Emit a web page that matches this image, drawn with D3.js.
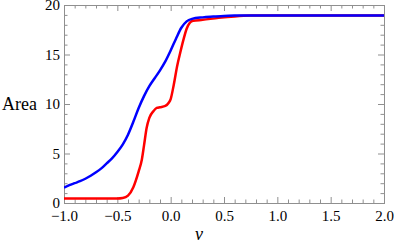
<!DOCTYPE html>
<html>
<head>
<meta charset="utf-8">
<script src="https://cdn.jsdelivr.net/npm/d3@7"></script>
<style>
  html, body { margin: 0; padding: 0; background: #fff; }
  svg { display: block; }
</style>
</head>
<body>
<svg id="chart" width="394" height="245"></svg>
<script>
// ---- data ----
const blueV = [-1.0, -0.95, -0.9, -0.85, -0.8, -0.75, -0.7, -0.65, -0.6, -0.55, -0.5, -0.45, -0.4, -0.35, -0.3, -0.25, -0.2, -0.15, -0.1, -0.05, 0.0, 0.05, 0.1, 0.15, 0.2, 0.3, 0.4, 0.5, 0.6, 0.8, 1.0, 1.5, 2.0];
const blueArea = [1.55, 1.8, 2.0, 2.2, 2.45, 2.75, 3.1, 3.5, 4.0, 4.5, 5.15, 5.9, 6.9, 8.2, 9.6, 10.8, 11.8, 12.6, 13.4, 14.3, 15.4, 16.6, 17.7, 18.35, 18.6, 18.75, 18.83, 18.9, 18.93, 18.95, 18.95, 18.95, 18.95];
const redV = [-1.0, -0.75, -0.5, -0.45, -0.4, -0.35, -0.3, -0.27, -0.25, -0.225, -0.2, -0.16, -0.13, -0.1, -0.05, -0.02, 0.0, 0.03, 0.06, 0.09, 0.12, 0.15, 0.18, 0.21, 0.3, 0.45, 0.6, 0.75, 1.0, 1.5, 2.0];
const redArea = [0.45, 0.45, 0.45, 0.5, 0.75, 1.6, 3.2, 4.4, 5.8, 7.6, 8.6, 9.3, 9.6, 9.67, 9.8, 10.1, 10.5, 12.0, 13.8, 15.2, 16.5, 17.6, 18.2, 18.4, 18.5, 18.7, 18.85, 18.93, 18.95, 18.95, 18.95];
const xMajorTicks = [-1.0, -0.5, 0.0, 0.5, 1.0, 1.5, 2.0];
const yMajorTicks = [0, 5, 10, 15, 20];
const xLabel = "v";
const yLabel = "Area";

// ---- layout ----
const pL = 64, pR = 384, pT = 5, pB = 203;
const serif = "'Liberation Serif', 'Times New Roman', serif";
const svg = d3.select("#chart");
const x = d3.scaleLinear().domain([-1, 2]).range([pL, pR]);
const y = d3.scaleLinear().domain([0, 20]).range([pB, pT]);
const frameColor = "#8f8f8f";

const xMinor = d3.range(-10, 21).map(i => i / 10).filter(v => Math.abs(v * 2 - Math.round(v * 2)) > 1e-6);
const yMinor = d3.range(0, 21).filter(v => v % 5 !== 0);

function styleAxis(g) {
  g.select(".domain").remove();
  g.selectAll(".tick line").attr("stroke", frameColor).attr("stroke-width", 1);
  g.selectAll(".tick text").style("font-family", serif).style("font-size", "15px").attr("fill", "#000");
}

// minor ticks (all sides)
svg.append("g").attr("transform", `translate(0,${pB})`)
  .call(d3.axisBottom(x).tickValues(xMinor).tickSize(-3.5).tickFormat("")).call(styleAxis);
svg.append("g").attr("transform", `translate(0,${pT})`)
  .call(d3.axisTop(x).tickValues(xMinor).tickSize(-3.5).tickFormat("")).call(styleAxis);
svg.append("g").attr("transform", `translate(${pL},0)`)
  .call(d3.axisLeft(y).tickValues(yMinor).tickSize(-3.5).tickFormat("")).call(styleAxis);
svg.append("g").attr("transform", `translate(${pR},0)`)
  .call(d3.axisRight(y).tickValues(yMinor).tickSize(-3.5).tickFormat("")).call(styleAxis);

// major ticks
svg.append("g").attr("transform", `translate(0,${pB})`)
  .call(d3.axisBottom(x).tickValues(xMajorTicks).tickSize(-6).tickPadding(7).tickFormat(d3.format(".1f"))).call(styleAxis);
svg.append("g").attr("transform", `translate(0,${pT})`)
  .call(d3.axisTop(x).tickValues(xMajorTicks).tickSize(-6).tickFormat("")).call(styleAxis);
svg.append("g").attr("transform", `translate(${pL},0)`)
  .call(d3.axisLeft(y).tickValues(yMajorTicks).tickSize(-6).tickPadding(4).tickFormat(d3.format("d"))).call(styleAxis);
svg.append("g").attr("transform", `translate(${pR},0)`)
  .call(d3.axisRight(y).tickValues(yMajorTicks).tickSize(-6).tickFormat("")).call(styleAxis);

// frame
svg.append("rect")
  .attr("x", pL + 0.5).attr("y", pT + 0.5)
  .attr("width", pR - pL).attr("height", pB - pT)
  .attr("fill", "none").attr("stroke", frameColor).attr("stroke-width", 1);

// curves
svg.append("clipPath").attr("id", "clip").append("rect")
  .attr("x", pL).attr("y", pT).attr("width", pR - pL).attr("height", pB - pT);

const line = d3.line().x(d => x(d[0])).y(d => y(d[1])).curve(d3.curveMonotoneX);
svg.append("path")
  .datum(redV.map((v, i) => [v, redArea[i]]))
  .attr("d", line).attr("fill", "none").attr("stroke", "#ff0000").attr("stroke-width", 2.5)
  .attr("clip-path", "url(#clip)");
svg.append("path")
  .datum(blueV.map((v, i) => [v, blueArea[i]]))
  .attr("d", line).attr("fill", "none").attr("stroke", "#0000ff").attr("stroke-width", 2.5)
  .attr("clip-path", "url(#clip)");

// axis labels
svg.append("text").attr("x", 2).attr("y", 110)
  .style("font-family", serif).style("font-size", "18px").text(yLabel);
svg.append("text").attr("x", 199).attr("y", 240).attr("text-anchor", "middle")
  .style("font-family", serif).style("font-style", "italic").style("font-size", "18px").text(xLabel);
</script>
</body>
</html>
